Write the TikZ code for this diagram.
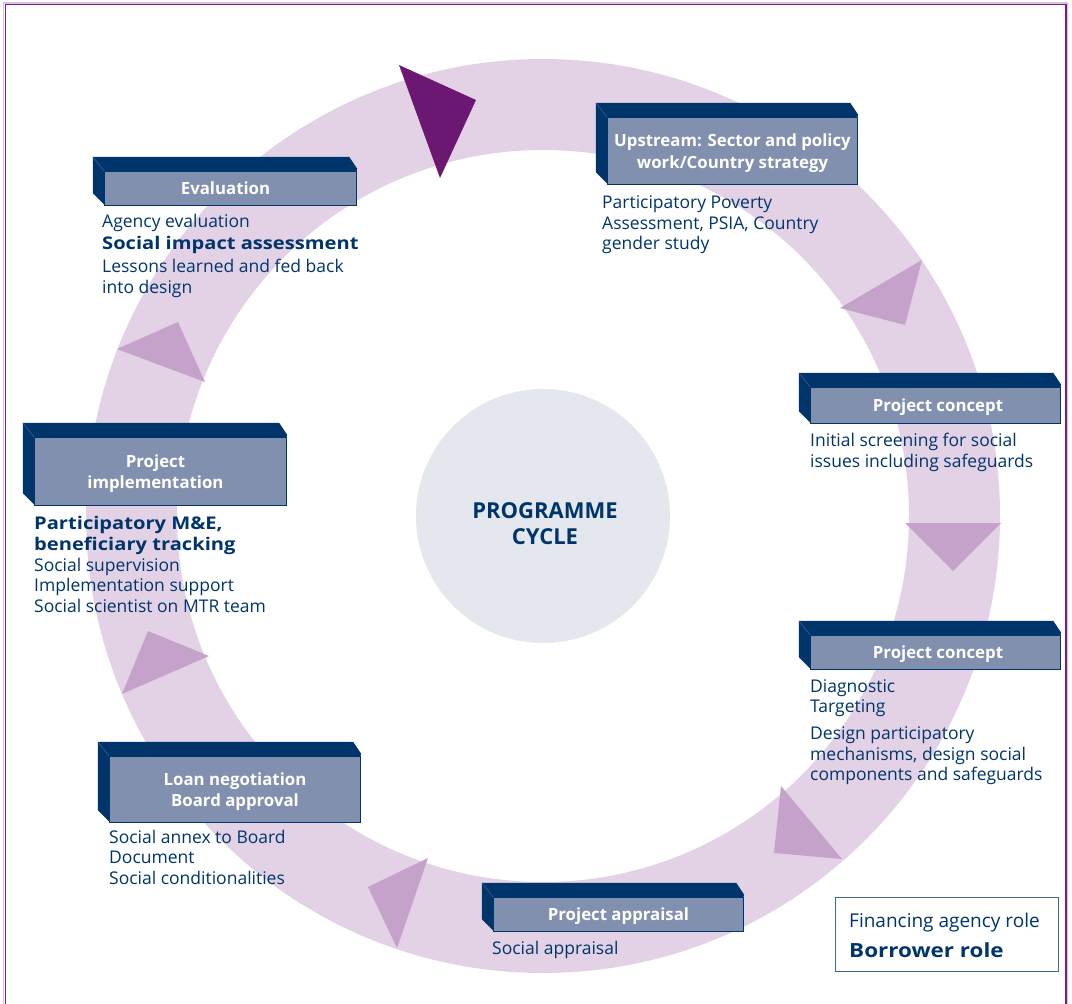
\documentclass[tikz,border=0pt]{standalone}
\usepackage{fontspec}
\setmainfont{Open Sans}
\newfontfamily\sboldfam[FakeStretch=1.15]{Open Sans}
\usetikzlibrary{calc}
\definecolor{navy}{HTML}{00356B}
\definecolor{slate}{HTML}{8190AE}
\definecolor{edgec}{HTML}{3A6090}
\definecolor{ringc}{HTML}{E3D2E6}
\definecolor{tric}{HTML}{C5A2C9}
\definecolor{bigarr}{HTML}{6C1873}
\definecolor{hubc}{HTML}{E4E8EE}
\definecolor{framec}{HTML}{7A1E86}
\definecolor{frameshade}{HTML}{D8C2DD}
\newcommand\bodyfont{\fontsize{17.5}{21}\selectfont}
\newcommand\strongfont{\sboldfam\bfseries\fontsize{17.5}{21}\selectfont}
\newcommand\hdrfont{\bfseries\fontsize{16.8}{21.5}\selectfont}
\newcommand\bevel[1]{%
  \fill[navy] ($(#1.north west)+(-12,-15)$) -- ($(#1.north east)+(-7,-15)$) -- ($(#1.north east)+(1,-3)$) -- (#1.north east) -- (#1.north west) -- (#1.south west) -- ($(#1.south west)+(-12,-12)$) -- cycle;
  \draw[edgec, line width=0.6pt] ($(#1.north west)+(-12,-15)$) -- (#1.north west);
  \draw[navy, line width=0.8pt] (#1.north west) rectangle (#1.south east);}
\tikzset{
  hdr/.style={fill=slate, text=white, font=\hdrfont, align=center, inner sep=0pt, text depth=0pt},
  body/.style={anchor=base west, inner sep=0pt, text=navy, font=\bodyfont},
  strong/.style={anchor=base west, inner sep=0pt, text=navy, font=\strongfont},
  tri/.style={fill=tric},
}
\begin{document}
\begin{tikzpicture}[x=1pt,y=-1pt]
\useasboundingbox (0,0) rectangle (1072,1004);
\fill[white] (0,0) rectangle (1072,1004);
% frame
\draw[frameshade, line width=1.6pt] (3.6,2.8) rectangle (1067.6,1012);
\draw[framec, line width=1.3pt] (5.4,4.5) rectangle (1066,1012);
% ring
\fill[ringc, even odd rule] (543,516) circle (457pt) (543,516) circle (366pt);
% arrows on ring
\fill[tri] (922,260) -- (840,308) -- (905,325) -- cycle;
\fill[tri] (905,523) -- (1001,523) -- (953,571) -- cycle;
\fill[tri] (781,786) -- (774,853) -- (842,859) -- cycle;
\fill[tri] (428,858) -- (368,887) -- (397,948) -- cycle;
\fill[tri] (148,631) -- (209,656) -- (122,694) -- cycle;
\fill[tri] (178,322) -- (205,382) -- (117,349) -- cycle;
\fill[bigarr] (399,65) -- (476,100) -- (440,178) -- cycle;
% hub
\node[circle, fill=hubc, minimum size=254pt, inner sep=0pt] (hub) at (543,516) {};
\node[text=navy, font=\bfseries\fontsize{22}{25.5}\selectfont, align=center, inner sep=0pt] (hubtext) at (545,523.5) {PROGRAMME\\CYCLE};
% boxes
\node[hdr, minimum width=251pt, minimum height=33pt] (ev) at (230.5,188.5) {\hspace*{-10pt}Evaluation};
\bevel{ev}
\node[hdr, minimum width=249pt, minimum height=66pt] (up) at (732.5,151) {Upstream: Sector and policy\\work/Country strategy};
\bevel{up}
\node[hdr, minimum width=249pt, minimum height=35pt] (pca) at (935.5,405.5) {\hspace*{5pt}Project concept};
\bevel{pca}
\node[hdr, minimum width=249pt, minimum height=33pt] (pcb) at (935.5,652.5) {\hspace*{5pt}Project concept};
\bevel{pcb}
\node[hdr, minimum width=249pt, minimum height=33pt] (pa) at (618.5,914.5) {Project appraisal};
\bevel{pa}
\node[hdr, minimum width=250pt, minimum height=65pt] (ln) at (235,789.5) {Loan negotiation\\Board approval};
\bevel{ln}
\node[hdr, minimum width=251pt, minimum height=67pt] (pi) at (160.5,471.5) {\hspace*{-10pt}Project\\\hspace*{-10pt}implementation};
\bevel{pi}
% texts: evaluation
\node[body] (e1) at (102,227) {Agency evaluation};
\node[strong] (e2) at (102,249.5) {Social impact assessment};
\node[body] (e3) at (102,272) {Lessons learned and fed back};
\node[body] (e4) at (102,293) {into design};
% upstream
\node[body] (u1) at (602,208) {Participatory Poverty};
\node[body] (u2) at (602,229) {Assessment, PSIA, Country};
\node[body] (u3) at (602,249) {gender study};
% concept 1
\node[body] (ca1) at (810,446) {Initial screening for social};
\node[body] (ca2) at (810,467) {issues including safeguards};
% concept 2
\node[body] (cb1) at (810,692) {Diagnostic};
\node[body] (cb2) at (810,712) {Targeting};
\node[body] (cb3) at (810,739) {Design participatory};
\node[body] (cb4) at (810,760) {mechanisms, design social};
\node[body] (cb5) at (810,780) {components and safeguards};
% appraisal
\node[body] (pa1) at (492,954) {Social appraisal};
% loan
\node[body] (l1) at (109,843) {Social annex to Board};
\node[body] (l2) at (109,863) {Document};
\node[body] (l3) at (109,884) {Social conditionalities};
% implementation
\node[strong] (i1) at (34,529) {Participatory M\&E,};
\node[strong] (i2) at (34,550) {beneficiary tracking};
\node[body] (i3) at (34,571) {Social supervision};
\node[body] (i4) at (34,591) {Implementation support};
\node[body] (i5) at (34,612) {Social scientist on MTR team};
% legend
\node[draw=navy!75, line width=0.9pt, minimum width=223pt, minimum height=74pt, inner sep=0pt] (legend) at (946.5,934) {};
\node[body, font=\fontsize{19}{23}\selectfont] (lg1) at (849,927) {Financing agency role};
\node[strong, font=\sboldfam\bfseries\fontsize{19.5}{23}\selectfont] (lg2) at (849,957.5) {Borrower role};
\end{tikzpicture}
\end{document}
